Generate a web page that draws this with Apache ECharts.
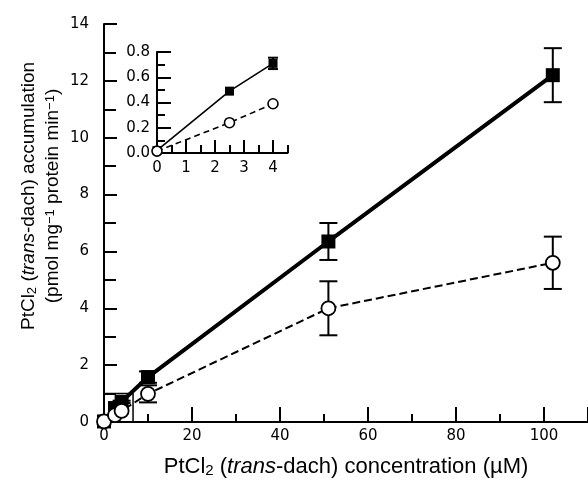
<!DOCTYPE html>
<html><head><meta charset="utf-8">
<script src="https://cdn.jsdelivr.net/npm/echarts@6/dist/echarts.min.js"></script>
<style>html,body{margin:0;padding:0;background:#fff}#c{width:588px;height:481px}</style>
</head><body><div id="c"></div>
<script>
// Main panel data (µM, pmol/mg protein/min)
const concMain = [0, 2.5, 4, 10, 51, 102];
const filledMain = [0.02, 0.49, 0.71, 1.58, 6.35, 12.2];
const filledMainErr = [0, 0, 0.04, 0.2, 0.65, 0.95];
const openMain = [0.02, 0.24, 0.39, 0.99, 4.0, 5.6];
const openMainErr = [0, 0, 0, 0.3, 0.95, 0.92];
// Inset data
const concInset = [0, 2.5, 4];
const filledInset = [0.02, 0.49, 0.71];
const filledInsetErr = [0, 0, 0.045];
const openInset = [0.015, 0.24, 0.39];
const openInsetErr = [0, 0, 0];
// Box marking inset region on main axes
const boxX = [0, 6.6, 6.6];
const boxY = [1, 1, 0];
// Tick values
const xMainTicks = [0, 20, 40, 60, 80, 100];
const xInsetMajor = [0, 1, 2, 3, 4];

const FONT = 'Liberation Sans, Arial, sans-serif';
const TFONT = 'DejaVu Sans, sans-serif';
const pairs = (xs, ys) => xs.map((x, i) => [x, ys[i]]);
const triples = (xs, ys, es) => xs.map((x, i) => [x, ys[i], es[i]]);

function errSeries(xi, yi, data, cap, lw, z) {
  return {
    type: 'custom', xAxisIndex: xi, yAxisIndex: yi, z: z, clip: false,
    data: data, encode: { x: 0, y: 1 }, silent: true,
    renderItem: function (params, api) {
      const x = api.value(0), y = api.value(1), e = api.value(2);
      if (!e) return null;
      const t = api.coord([x, y + e]), b = api.coord([x, y - e]);
      const st = { stroke: '#000', lineWidth: lw };
      return { type: 'group', children: [
        { type: 'line', shape: { x1: t[0], y1: t[1], x2: b[0], y2: b[1] }, style: st },
        { type: 'line', shape: { x1: t[0] - cap, y1: t[1], x2: t[0] + cap, y2: t[1] }, style: st },
        { type: 'line', shape: { x1: b[0] - cap, y1: b[1], x2: b[0] + cap, y2: b[1] }, style: st }
      ]};
    }
  };
}

const axLine = { show: true, onZero: false, lineStyle: { color: '#000', width: 2 } };
const tickSt = { color: '#000', width: 2 };
const lab = (m, extra) => Object.assign({ color: '#000', fontSize: 15, fontFamily: TFONT, margin: m }, extra || {});

const chart = echarts.init(document.getElementById('c'), null, { renderer: 'canvas' });
chart.setOption({
  animation: false,
  backgroundColor: '#fff',
  grid: [
    { left: 104, top: 24, width: 493, height: 398 },
    { left: 157, top: 52, width: 130.5, height: 101 }
  ],
  xAxis: [
    { type: 'value', gridIndex: 0, min: 0, max: 110, interval: 20,
      axisLine: axLine, splitLine: { show: false },
      axisTick: { show: true, inside: true, length: 15, lineStyle: tickSt },
      minorTick: { show: true, splitNumber: 2, length: 8, lineStyle: tickSt },
      axisLabel: lab(7, { customValues: xMainTicks }) },
    { type: 'value', gridIndex: 1, min: 0, max: 4.5, interval: 0.5,
      axisLine: axLine, splitLine: { show: false },
      axisTick: { show: true, inside: true, length: 8, lineStyle: tickSt },
      axisLabel: lab(8, { customValues: xInsetMajor }) },
    { type: 'value', gridIndex: 1, min: 0, max: 4.5, position: 'bottom', offset: 0,
      axisLine: { show: false }, splitLine: { show: false },
      axisTick: { show: true, inside: true, length: 13, lineStyle: tickSt, customValues: xInsetMajor },
      axisLabel: { show: false } }
  ],
  yAxis: [
    { type: 'value', gridIndex: 0, min: 0, max: 14, interval: 2,
      axisLine: axLine, splitLine: { show: false },
      axisTick: { show: true, inside: true, length: 13, lineStyle: tickSt },
      minorTick: { show: true, splitNumber: 2, length: 12, lineStyle: tickSt },
      axisLabel: lab(15) },
    { type: 'value', gridIndex: 1, min: 0, max: 0.8, interval: 0.2,
      axisLine: axLine, splitLine: { show: false },
      axisTick: { show: true, inside: true, length: 14, lineStyle: tickSt },
      minorTick: { show: true, splitNumber: 2, length: 8, lineStyle: tickSt },
      axisLabel: lab(7, { formatter: v => v.toFixed(1) }) }
  ],
  series: [
    { type: 'line', xAxisIndex: 0, yAxisIndex: 0, data: pairs(boxX, boxY),
      showSymbol: false, symbol: 'none', lineStyle: { color: '#000', width: 1.5 }, z: 1, silent: true },
    errSeries(0, 0, triples(concMain, filledMain, filledMainErr), 9, 2, 2),
    errSeries(0, 0, triples(concMain, openMain, openMainErr), 9, 2, 2),
    { type: 'line', xAxisIndex: 0, yAxisIndex: 0, data: pairs(concMain, filledMain),
      symbol: 'rect', symbolSize: 14, clip: false,
      lineStyle: { color: '#000', width: 4 }, itemStyle: { color: '#000' }, z: 3 },
    { type: 'line', xAxisIndex: 0, yAxisIndex: 0, data: pairs(concMain, openMain),
      symbol: 'circle', symbolSize: 14, clip: false,
      lineStyle: { color: '#000', width: 2, type: [8, 4] },
      itemStyle: { color: '#fff', borderColor: '#000', borderWidth: 1.8 }, z: 4 },
    errSeries(1, 1, triples(concInset, filledInset, filledInsetErr), 5, 2, 2),
    errSeries(1, 1, triples(concInset, openInset, openInsetErr), 5, 2, 2),
    { type: 'line', xAxisIndex: 1, yAxisIndex: 1, data: pairs(concInset, filledInset),
      symbol: 'rect', symbolSize: 9, clip: false,
      lineStyle: { color: '#000', width: 1.6 }, itemStyle: { color: '#000' }, z: 3 },
    { type: 'line', xAxisIndex: 1, yAxisIndex: 1, data: pairs(concInset, openInset),
      symbol: 'circle', symbolSize: 10, clip: false,
      lineStyle: { color: '#000', width: 1.6, type: [6, 4] },
      itemStyle: { color: '#fff', borderColor: '#000', borderWidth: 1.6 }, z: 4 }
  ],
  graphic: [
    { type: 'text', x: 346, y: 467,
      style: { text: 'PtCl{s|2} ({i|trans}-dach) concentration (µM)',
        fontSize: 22, fontFamily: FONT, fill: '#000', align: 'center', verticalAlign: 'middle',
        rich: { s: { fontSize: 15, fontFamily: FONT, verticalAlign: 'bottom' },
                i: { fontSize: 22, fontFamily: FONT, fontStyle: 'italic' } } } },
    { type: 'text', x: 29, y: 196, rotation: Math.PI / 2,
      style: { text: 'PtCl{s|2} ({i|trans}-dach) accumulation',
        fontSize: 19, fontFamily: FONT, fill: '#000', align: 'center', verticalAlign: 'middle',
        rich: { s: { fontSize: 13, fontFamily: FONT, verticalAlign: 'bottom' },
                i: { fontSize: 19, fontFamily: FONT, fontStyle: 'italic' } } } },
    { type: 'text', x: 53, y: 196, rotation: Math.PI / 2,
      style: { text: '(pmol mg{p|−1} protein min{p|−1})',
        fontSize: 19, fontFamily: FONT, fill: '#000', align: 'center', verticalAlign: 'middle',
        rich: { p: { fontSize: 13, fontFamily: FONT, verticalAlign: 'top' } } } }
  ]
});
</script></body></html>
